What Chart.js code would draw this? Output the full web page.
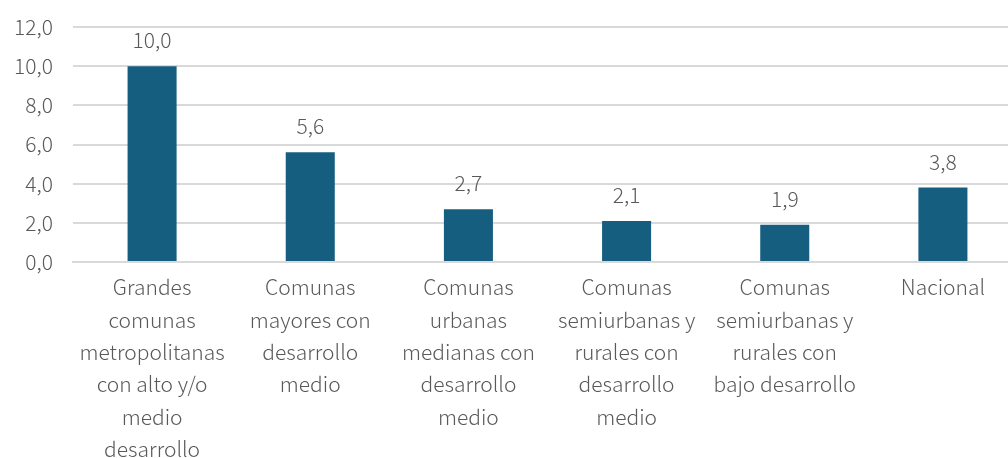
<!DOCTYPE html>
<html>
<head>
<meta charset="utf-8">
<script src="https://cdn.jsdelivr.net/npm/chart.js@4"></script>
<style>
  html, body { margin: 0; padding: 0; background: #fff; overflow: hidden; }
  #wrap { width: 1008px; height: 458px; overflow: hidden; }
</style>
</head>
<body>
<div id="wrap"><canvas id="myChart" width="1022" height="458"></canvas></div>
<script>
// datos del grafico
var categorias = [
  ["Grandes", "comunas", "metropolitanas", "con alto y/o", "medio", "desarrollo"],
  ["Comunas", "mayores con", "desarrollo", "medio"],
  ["Comunas", "urbanas", "medianas con", "desarrollo", "medio"],
  ["Comunas", "semiurbanas y", "rurales con", "desarrollo", "medio"],
  ["Comunas", "semiurbanas y", "rurales con", "bajo desarrollo"],
  ["Nacional"]
];
var valores = [10.0, 5.6, 2.7, 2.1, 1.9, 3.8];
var yTicks = [0, 2, 4, 6, 8, 10, 12];

var fuente = '"Noto Sans CJK SC", "Noto Sans", sans-serif';
var gris = '#595959';

function coma(v) {
  return v.toFixed(1).replace('.', ',');
}

// etiquetas sobre las barras
var etiquetas = {
  id: 'etiquetas',
  afterDatasetsDraw: function(chart) {
    var ctx = chart.ctx;
    var meta = chart.getDatasetMeta(0);
    ctx.save();
    ctx.font = '300 21px ' + fuente;
    ctx.fillStyle = gris;
    ctx.textAlign = 'center';
    ctx.textBaseline = 'middle';
    meta.data.forEach(function(bar, i) {
      ctx.fillText(coma(valores[i]), bar.x, bar.y - 26);
    });
    ctx.restore();
  }
};

var ctx = document.getElementById('myChart').getContext('2d');
var chart = new Chart(ctx, {
  type: 'bar',
  data: {
    labels: categorias,
    datasets: [{
      data: valores,
      backgroundColor: '#165e80',
      barPercentage: 0.31,
      categoryPercentage: 1
    }]
  },
  options: {
    responsive: false,
    animation: false,
    layout: { padding: { top: 27, left: 0, right: 0, bottom: 0 } },
    plugins: {
      legend: { display: false },
      tooltip: { enabled: false }
    },
    scales: {
      x: {
        grid: { display: false },
        border: { color: '#d9d9d9', width: 2 },
        afterFit: function(axis) { axis.height = 196; },
        ticks: {
          color: gris,
          font: { family: fuente, size: 21, weight: '300', lineHeight: 1.543 },
          maxRotation: 0,
          autoSkip: false,
          padding: 1
        }
      },
      y: {
        min: 0,
        max: 12,
        afterBuildTicks: function(axis) {
          axis.ticks = yTicks.map(function(v) { return { value: v }; });
        },
        afterFit: function(axis) {
          axis.width = 73;
          axis.paddingTop = 0;
          axis.paddingBottom = 0;
        },
        grid: { color: '#d9d9d9', lineWidth: 2, drawTicks: false },
        border: { display: false },
        ticks: {
          color: gris,
          font: { family: fuente, size: 21, weight: '300' },
          padding: 20,
          callback: function(v) { return coma(v); }
        }
      }
    }
  },
  plugins: [etiquetas]
});
</script>
</body>
</html>
